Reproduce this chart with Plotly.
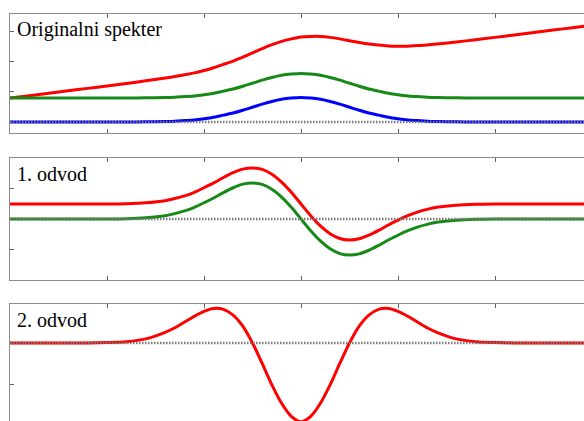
import plotly.graph_objects as go

# x positions (data units; ticks at 1..5)
x = [0.0, 0.2, 0.4, 0.6, 0.8, 1.0, 1.2, 1.4,
     1.6, 1.7, 1.8, 1.9, 2.0, 2.1, 2.2, 2.3, 2.4, 2.5, 2.6, 2.7, 2.8, 2.9,
     3.0, 3.1, 3.2, 3.3, 3.4, 3.5, 3.6, 3.7, 3.8, 3.9, 4.0, 4.1, 4.2, 4.3, 4.4,
     4.6, 4.8, 5.0, 5.2, 5.4, 5.6, 5.8, 6.0]

# Panel 1: original spectra
orig_blue = [0, 0, 0, 0, 0, 0, 0, 0.01,
             0.02, 0.03, 0.05, 0.07, 0.11, 0.16, 0.23, 0.30, 0.39, 0.49, 0.59, 0.68, 0.75, 0.79,
             0.81, 0.79, 0.75, 0.68, 0.59, 0.49, 0.39, 0.30, 0.23, 0.16, 0.11, 0.07, 0.05, 0.03, 0.02,
             0.01, 0, 0, 0, 0, 0, 0, 0]
orig_green = [0.79, 0.79, 0.79, 0.79, 0.79, 0.79, 0.79, 0.80,
              0.81, 0.82, 0.84, 0.86, 0.90, 0.95, 1.02, 1.09, 1.18, 1.28, 1.38, 1.47, 1.54, 1.58,
              1.60, 1.58, 1.54, 1.47, 1.38, 1.28, 1.18, 1.09, 1.02, 0.95, 0.90, 0.86, 0.84, 0.82, 0.81,
              0.80, 0.79, 0.79, 0.79, 0.79, 0.79, 0.79, 0.79]
orig_red = [0.79, 0.87, 0.95, 1.03, 1.11, 1.19, 1.27, 1.36,
            1.45, 1.50, 1.56, 1.62, 1.70, 1.79, 1.90, 2.01, 2.14, 2.28, 2.42, 2.55, 2.66, 2.74,
            2.80, 2.82, 2.82, 2.79, 2.74, 2.68, 2.62, 2.57, 2.54, 2.51, 2.50, 2.50, 2.52, 2.54, 2.57,
            2.64, 2.71, 2.79, 2.87, 2.95, 3.03, 3.11, 3.19]

# Panel 2: first derivative
d1_green = [0, 0, 0, 0, 0, 0, 0.01, 0.04,
            0.11, 0.18, 0.27, 0.39, 0.54, 0.70, 0.88, 1.04, 1.16, 1.20, 1.15, 0.99, 0.73, 0.39,
            0, -0.39, -0.73, -0.99, -1.15, -1.20, -1.16, -1.04, -0.88, -0.70, -0.54, -0.39, -0.27, -0.18, -0.11,
            -0.04, -0.01, 0, 0, 0, 0, 0, 0]
d1_red = [0.5, 0.5, 0.5, 0.5, 0.5, 0.5, 0.51, 0.54,
          0.61, 0.68, 0.77, 0.89, 1.04, 1.20, 1.38, 1.54, 1.66, 1.70, 1.65, 1.49, 1.23, 0.89,
          0.50, 0.11, -0.23, -0.49, -0.65, -0.70, -0.66, -0.54, -0.38, -0.20, -0.04, 0.11, 0.23, 0.32, 0.39,
          0.46, 0.49, 0.5, 0.5, 0.5, 0.5, 0.5, 0.5]

# Panel 3: second derivative
d2_red = [0, 0, 0, 0, 0, 0.01, 0.03, 0.10,
          0.26, 0.37, 0.51, 0.65, 0.77, 0.84, 0.82, 0.68, 0.41, 0, -0.50, -1.02, -1.47, -1.79,
          -1.92, -1.79, -1.47, -1.02, -0.50, 0, 0.41, 0.68, 0.82, 0.84, 0.77, 0.65, 0.51, 0.37, 0.26,
          0.10, 0.03, 0.01, 0, 0, 0, 0, 0]

baseline_x = [0.0, 6.0]
baseline_y = [0, 0]

labels = ["Originalni spekter", "1. odvod", "2. odvod"]

RED = "#ff0000"
GREEN = "#168a16"
BLUE = "#0000ff"
DOT = "#7a7a7a"
LW = 3

fig = go.Figure()

def line(xs, ys, color, xa, ya, width=LW, dash=None, spline=True):
    fig.add_trace(go.Scatter(
        x=xs, y=ys, mode="lines", xaxis=xa, yaxis=ya, showlegend=False,
        hoverinfo="skip",
        line=dict(color=color, width=width, dash=dash,
                  shape="spline" if spline else "linear", smoothing=0.8)))

# panel 1
line(x, orig_red, RED, "x", "y")
line(x, orig_green, GREEN, "x", "y")
line(x, orig_blue, BLUE, "x", "y")
line(baseline_x, baseline_y, DOT, "x", "y", width=2.5, dash="1.5px,1.5px", spline=False)
# panel 2
line(x, d1_red, RED, "x2", "y2")
line(x, d1_green, GREEN, "x2", "y2")
line(baseline_x, baseline_y, DOT, "x2", "y2", width=2.5, dash="1.5px,1.5px", spline=False)
# panel 3
line(x, d2_red, RED, "x3", "y3")
line(baseline_x, baseline_y, DOT, "x3", "y3", width=2.5, dash="1.5px,1.5px", spline=False)

FRAME = "#8c8c8c"
TICK = "#606060"
W, H = 584, 421
ML, MT = 10, 14
PW, PH = W - ML, H - MT

def dom(top_px, bot_px):
    return [(H - bot_px) / PH, (H - top_px) / PH]

xcommon = dict(range=[0, 574 / 97], showline=True, linecolor=FRAME, linewidth=1,
               ticks="inside", ticklen=4, tickcolor=TICK, tickwidth=1,
               tickvals=[1, 2, 3, 4, 5], showticklabels=False,
               showgrid=False, zeroline=False, domain=[0, 1], fixedrange=True)
ycommon = dict(showline=True, linecolor=FRAME, linewidth=1, mirror=False,
               ticks="inside", ticklen=4, tickcolor=TICK, tickwidth=1,
               showticklabels=False, showgrid=False, zeroline=False, fixedrange=True)

fig.update_layout(
    width=W, height=H,
    margin=dict(l=ML, r=0, t=MT, b=0, pad=0),
    paper_bgcolor="white", plot_bgcolor="white",
    xaxis=dict(xcommon, anchor="y", mirror="ticks"),
    xaxis2=dict(xcommon, anchor="y2", mirror="ticks"),
    xaxis3=dict(xcommon, anchor="y3", side="top", mirror=True),
    yaxis=dict(ycommon, anchor="x", domain=dom(14, 133), range=[-0.36, 3.56], tickvals=[0, 1, 2, 3]),
    yaxis2=dict(ycommon, anchor="x2", domain=dom(158, 280), range=[-2.03, 2.03], tickvals=[-1, 0, 1]),
    yaxis3=dict(ycommon, anchor="x3", domain=dom(304, 421), range=[-1.902, 0.95], tickvals=[-1, 0]),
)

font = dict(family="Liberation Serif, Times New Roman, DejaVu Serif, serif", size=20, color="black")
for txt, cy in zip(labels, [30, 174, 320]):
    fig.add_annotation(text=txt, xref="paper", yref="paper",
                       x=(15 - ML) / PW, y=(H - cy) / PH,
                       xanchor="left", yanchor="middle", showarrow=False, font=font)

fig.write_html("out.html")
